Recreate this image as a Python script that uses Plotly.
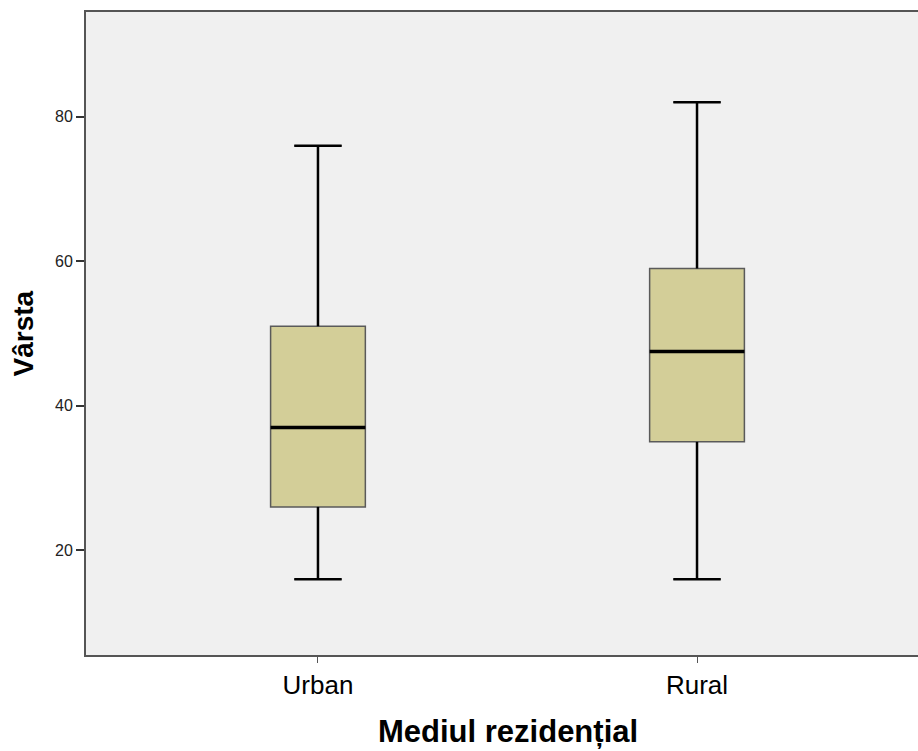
import plotly.graph_objects as go

# Age distribution by residential environment (five-number summaries)
categories = ["Urban", "Rural"]
minimum = [16, 16]
q1 = [26, 35]
median = [37, 47.5]
q3 = [51, 59]
maximum = [76, 82]

y_ticks = [20, 40, 60, 80]

positions = list(range(len(categories)))
box_width = 0.25
cap_half = box_width / 4

fig = go.Figure()

# Box bodies
fig.add_trace(go.Box(
    x=positions,
    q1=q1, median=median, q3=q3,
    lowerfence=minimum, upperfence=maximum,
    width=box_width,
    whiskerwidth=0.5,
    fillcolor="#D3CE98",
    line=dict(color="#5a5a5a", width=1.5),
    boxpoints=False,
    hoverinfo="skip",
    showlegend=False,
))

# Whiskers and caps in black
wx, wy = [], []
for p, lo, a, b, hi in zip(positions, minimum, q1, q3, maximum):
    wx += [p, p, None, p, p, None,
           p - cap_half, p + cap_half, None, p - cap_half, p + cap_half, None]
    wy += [b, hi, None, a, lo, None, hi, hi, None, lo, lo, None]
fig.add_trace(go.Scatter(
    x=wx, y=wy, mode="lines",
    line=dict(color="#000000", width=2.5),
    hoverinfo="skip", showlegend=False,
))

# Medians
mx, my = [], []
for p, m in zip(positions, median):
    mx += [p - box_width / 2, p + box_width / 2, None]
    my += [m, m, None]
fig.add_trace(go.Scatter(
    x=mx, y=my, mode="lines",
    line=dict(color="#000000", width=3.5),
    hoverinfo="skip", showlegend=False,
))

font_family = "Liberation Sans, Arial, sans-serif"

fig.update_layout(
    width=918, height=751,
    margin=dict(l=86, r=0, t=12, b=96),
    paper_bgcolor="#FFFFFF",
    plot_bgcolor="#F0F0F0",
    font=dict(family=font_family, color="#000000"),
    xaxis=dict(
        range=[-0.612, 1.583],
        tickvals=positions, ticktext=categories,
        tickfont=dict(size=26, family=font_family, color="#000000"),
        ticks="outside", ticklen=6, tickwidth=1, tickcolor="#555555",
        showline=True, linecolor="#555555", linewidth=2, mirror=True,
        showgrid=False, zeroline=False, fixedrange=True,
    ),
    yaxis=dict(
        range=[5.5, 94.5],
        tickvals=y_ticks,
        tickfont=dict(size=16, family=font_family, color="#222222"),
        ticks="outside", ticklen=8, tickwidth=2, tickcolor="#333333",
        showline=True, linecolor="#555555", linewidth=2,
        showgrid=False, zeroline=False, fixedrange=True,
    ),
    annotations=[
        dict(
            text="<b>Mediul rezidențial</b>",
            x=0.5, xref="x", y=0, yref="paper",
            yanchor="top", yshift=-57,
            showarrow=False,
            font=dict(size=31, family=font_family, color="#000000"),
        ),
        dict(
            text="<b>Vârsta</b>",
            x=0, xref="paper", xanchor="center", xshift=-63,
            y=0.5, yref="paper", yanchor="middle",
            textangle=-90, showarrow=False,
            font=dict(size=28, family=font_family, color="#000000"),
        ),
    ],
)

fig.write_html("out.html")
